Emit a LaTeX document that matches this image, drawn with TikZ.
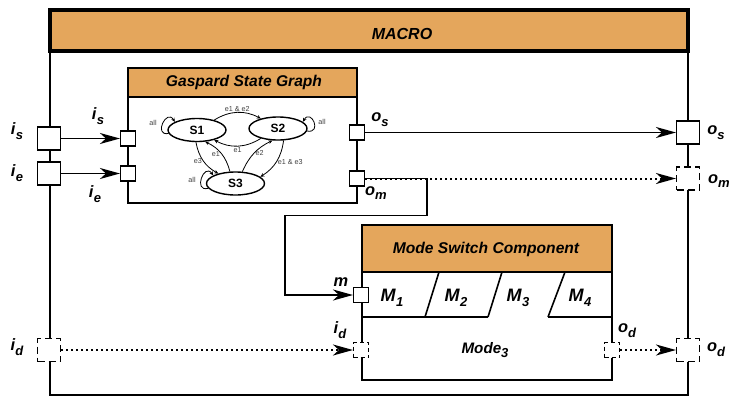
\documentclass[tikz,border=0pt]{standalone}
\usepackage{fontspec}
\setmainfont{Liberation Sans}
\usetikzlibrary{arrows.meta,shapes.geometric}

\definecolor{headorange}{RGB}{228,166,92}
\newcommand{\portname}[2]{\textbf{\textit{#1}}\raisebox{-0.55ex}{\fontsize{6.5}{7}\selectfont\bfseries\itshape #2}}

\begin{document}
\begin{tikzpicture}[x=0.5pt, y=0.5pt,
	frame/.style={line width=1.15pt},
	header/.style={draw, fill=headorange, line width=1.7pt},
	port/.style={draw, fill=white, line width=0.55pt, minimum size=7.5pt, inner sep=0pt},
	bigport/.style={port, minimum size=11.5pt},
	dport/.style={dash pattern=on 2pt off 1.5pt},
	bigdport/.style={dash pattern=on 3.5pt off 2pt},
	state/.style={ellipse, draw, line width=0.7pt, minimum width=29pt, minimum height=11.5pt, inner sep=0pt, font=\fontsize{6}{7}\selectfont\bfseries},
	title/.style={font=\fontsize{7.8}{9}\selectfont\bfseries\itshape},
	lbl/.style={font=\fontsize{8.2}{9}\selectfont, inner sep=0pt},
	tiny/.style={font=\fontsize{3.6}{4}\selectfont, inner sep=0.5pt, text=black!75},
	wire/.style={line width=0.9pt, -{Stealth[length=10pt, width=5.5pt, inset=3pt]}},
	dotwire/.style={wire, line width=1pt, dash pattern=on 1pt off 1.5pt},
	tr/.style={line width=0.4pt, -{Stealth[length=2pt, width=1.8pt]}}]

	\useasboundingbox (0,0) rectangle (731,-396);

	% macro component
	\draw [frame] (50,-10) rectangle (688,-395);
	\draw [header] (50,-10) rectangle (688,-51);
	\node [title, font=\fontsize{8}{9}\selectfont\bfseries\itshape] (macro) at (402,-33.5) {MACRO};

	% gaspard state graph
	\draw [frame] (128,-68) rectangle (357,-203);
	\draw [header, line width=1.3pt] (128,-68) rectangle (357,-97);
	\node [title] (gsg) at (244,-82) {Gaspard State Graph};

	\node [state] (s1) at (197,-130) {S1};
	\node [state] (s2) at (278,-128.5) {S2};
	\node [state] (s3) at (235.5,-183.5) {S3};

	\draw [tr] (s1.30) to [bend left=30] node [tiny, above] {e1 \& e2} (s2.150);
	\draw [tr] (s2.210) to [bend left=30] node [tiny, below] {e1} (s1.330);
	\draw [tr] (s1.265) to [bend right=25] node [tiny, left] {e3} (s3.150);
	\draw [tr] (s3.115) to [bend right=25] node [tiny, left] {e1} (s1.305);
	\draw [tr] (s3.60) to [bend left=20] node [tiny, right] {e2} (s2.245);
	\draw [tr] (s2.295) to [bend left=25] node [tiny, right] {e1 \& e3} (s3.15);

	\draw [tr] (s1.187) .. controls +(190:16) and +(120:16) .. (s1.160);
	\draw [tr] (s2.355) .. controls +(350:16) and +(60:16) .. (s2.15);
	\draw [tr] (s3.190) .. controls +(195:16) and +(125:16) .. (s3.160);
	\node [tiny] (all1) at (153,-123) {all};
	\node [tiny] (all2) at (322,-122) {all};
	\node [tiny] (all3) at (192,-180) {all};

	% mode switch component
	\draw [frame] (362,-225) rectangle (612,-380);
	\draw [header, line width=1.3pt] (362,-225) rectangle (612,-272);
	\node [title] (msc) at (486,-249) {Mode Switch Component};
	\draw [line width=0.8pt] (362,-317) -- (488,-317);
	\draw [line width=0.8pt] (548,-317) -- (612,-317);
	\draw [line width=0.8pt] (439,-272) -- (425,-317);
	\draw [line width=0.8pt] (502,-272) -- (488,-317);
	\draw [line width=0.8pt] (565,-272) -- (548,-317);
	\node [lbl, font=\fontsize{9}{10}\selectfont] (m1) at (392,-298) {\portname{M}{1}};
	\node [lbl, font=\fontsize{9}{10}\selectfont] (m2) at (456,-298) {\portname{M}{2}};
	\node [lbl, font=\fontsize{9}{10}\selectfont] (m3) at (518,-298) {\portname{M}{3}};
	\node [lbl, font=\fontsize{9}{10}\selectfont] (m4) at (580,-298) {\portname{M}{4}};
	\node [lbl, font=\fontsize{7.6}{9}\selectfont] (mode) at (485,-350) {\portname{Mode}{3}};

	% ports
	\node [bigport] (ois) at (49,-138.5) {};
	\node [bigport] (oie) at (49,-173.5) {};
	\node [bigport, bigdport] (oid) at (49,-350) {};
	\node [bigport] (oos) at (688,-132.5) {};
	\node [bigport, bigdport] (oom) at (688,-178.5) {};
	\node [bigport, bigdport] (ood) at (688,-350) {};
	\node [port] (gis) at (128,-138.5) {};
	\node [port] (gie) at (128,-173.5) {};
	\node [port] (gos) at (357,-132.5) {};
	\node [port] (gom) at (357,-178.5) {};
	\node [port] (msm) at (361,-295) {};
	\node [port, dport] (msid) at (361,-350) {};
	\node [port, dport] (msod) at (612,-350) {};

	% port labels
	\node [lbl] (lois) at (17,-131) {\portname{i}{s}};
	\node [lbl] (loie) at (17,-173) {\portname{i}{e}};
	\node [lbl] (loid) at (17,-347) {\portname{i}{d}};
	\node [lbl] (lgis) at (98,-116) {\portname{i}{s}};
	\node [lbl] (lgie) at (95,-194) {\portname{i}{e}};
	\node [lbl] (lgos) at (380,-120) {\portname{o}{s}};
	\node [lbl] (lgom) at (376,-193) {\portname{o}{m}};
	\node [lbl] (loos) at (716,-133) {\portname{o}{s}};
	\node [lbl] (loom) at (719,-181) {\portname{o}{m}};
	\node [lbl] (lood) at (716,-350) {\portname{o}{d}};
	\node [lbl] (lmsm) at (341,-282) {\textbf{\textit{m}}};
	\node [lbl] (lmsid) at (340,-330) {\portname{i}{d}};
	\node [lbl] (lmsod) at (627,-331) {\portname{o}{d}};

	% connectors
	\draw [wire] (ois.east) -- (gis.west);
	\draw [wire] (oie.east) -- (gie.west);
	\draw [wire] (gos.east) -- (oos.west);
	\draw [dotwire] (gom.east) -- (oom.west);
	\draw [wire] (gom.east) -- ++(62,0) -- ++(0,-37) -| ([xshift=-34pt]msm.west) -- (msm.west);
	\draw [dotwire] (oid.east) -- (msid.west);
	\draw [dotwire] (msod.east) -- (ood.west);

\end{tikzpicture}
\end{document}
